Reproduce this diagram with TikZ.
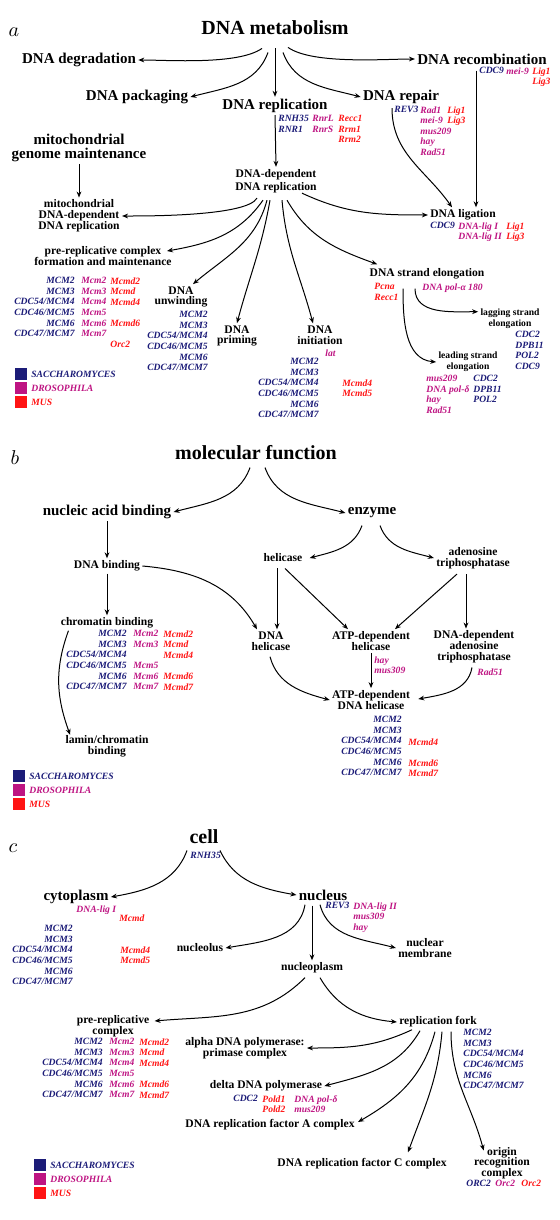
\documentclass[tikz,border=0pt]{standalone}
\usepackage{fontspec}
\setmainfont{Liberation Serif}
\usetikzlibrary{arrows.meta,calc}
\definecolor{sacblue}{RGB}{28,28,120}
\definecolor{dromag}{RGB}{190,20,130}
\definecolor{musred}{RGB}{255,20,20}
\lineskiplimit=-10pt
\newcommand{\mcmlist}{MCM2\\MCM3\\CDC54/MCM4\\CDC46/MCM5\\MCM6\\CDC47/MCM7}
\newcommand{\drolist}{Mcm2\\Mcm3\\Mcm4\\Mcm5\\Mcm6\\Mcm7}
%colour key: prefix, left, top
\newcommand{\specieskey}[3]{%
  \foreach \kcol/\kname [count=\k from 0] in {sacblue/SACCHAROMYCES,dromag/DROSOPHILA,musred/MUS}{
    \fill[\kcol] (#2,{-#3-14*\k}) rectangle ++(12,-12);
    \node[gene,text=\kcol,anchor=west] (#1key\k) at (#2+16,{-#3-14*\k-6}) {\kname};
  }}
\begin{document}
\begin{tikzpicture}[x=0.5pt,y=0.5pt,
  big/.style={font=\fontsize{10}{11}\selectfont\bfseries,inner sep=1pt},
  lone/.style={font=\fontsize{7.5}{6.6}\selectfont\bfseries,inner sep=1pt,align=center},
  ltwo/.style={font=\fontsize{5.8}{5.4}\selectfont\bfseries,inner sep=1pt,align=center},
  lthree/.style={font=\fontsize{4.8}{5.5}\selectfont\bfseries,inner sep=1pt,align=center},
  gene/.style={font=\fontsize{4.8}{5.3}\selectfont\bfseries\itshape,inner sep=0pt},
  sac/.style={gene,text=sacblue},
  dro/.style={gene,text=dromag},
  mus/.style={gene,text=musred},
  gl/.style={anchor=north west,align=left},
  gr/.style={anchor=north east,align=right},
  arr/.style={line width=0.5pt,-{Stealth[length=3pt,width=2.4pt]}},
  tag/.style={font=\fontsize{10}{12}\selectfont,inner sep=0pt}]
\useasboundingbox (0,0) rectangle (560,-1220);
%panel a
\node[tag] (pa) at (14,-32) {$a$};
\node[big] (met) at (275,-28) {DNA metabolism};
\node[lone] (deg) at (79,-60) {DNA degradation};
\node[lone] (pack) at (137,-97) {DNA packaging};
\node[lone] (rep) at (275,-106) {DNA replication};
\node[lone] (repair) at (401,-97) {DNA repair};
\node[lone] (recomb) at (482,-59) {DNA recombination};
\node[lone] (mito) at (79,-148) {mitochondrial\\genome maintenance};
\node[ltwo,font=\fontsize{5.8}{6.5}\selectfont\bfseries] (ddrep) at (276,-181) {DNA-dependent\\DNA replication};
\node[ltwo] (mdrep) at (79,-216) {mitochondrial\\DNA-dependent\\DNA replication};
\node[ltwo] (prerep) at (103,-256) {pre-replicative complex\\formation and maintenance};
\node[ltwo] (unwind) at (181,-297) {DNA\\unwinding};
\node[ltwo] (prim) at (237,-336) {DNA\\priming};
\node[ltwo] (init) at (320,-335) {DNA\\initiation};
\node[ltwo] (elong) at (427,-274) {DNA strand elongation};
\node[ltwo] (lig) at (463,-215) {DNA ligation};
\node[lthree] (lag) at (510,-319) {lagging strand\\elongation};
\node[lthree] (lead) at (468,-362) {leading strand\\elongation};
%gene lists a
\node[sac,gl] (rcg1) at (479,-67) {CDC9};
\node[dro,gl] (rcg2) at (506,-67) {mei-9};
\node[mus,gl] (rcg3) at (532,-67) {Lig1\\Lig3};
\node[sac,gl] (rpg1) at (394,-106) {REV3};
\node[dro,gl] (rpg2) at (420,-106) {Rad1\\mei-9\\mus209\\hay\\Rad51};
\node[mus,gl] (rpg3) at (447,-106) {Lig1\\Lig3};
\node[sac,gl] (rg1) at (278,-115) {RNH35\\RNR1};
\node[dro,gl] (rg2) at (312,-115) {RnrL\\RnrS};
\node[mus,gl] (rg3) at (338,-115) {Recc1\\Rrm1\\Rrm2};
\node[sac,gl] (lg1) at (430,-222) {CDC9};
\node[dro,gl] (lg2) at (458,-222) {DNA-lig I\\DNA-lig II};
\node[mus,gl] (lg3) at (506,-222) {Lig1\\Lig3};
\node[mus,gl] (eg1) at (374,-283) {Pcna\\Recc1};
\node[dro,gl] (eg2) at (422,-283) {DNA pol-α 180};
\node[sac,gl] (lgg) at (515,-331) {CDC2\\DPB11\\POL2\\CDC9};
\node[dro,gl] (ldg1) at (426,-375) {mus209\\DNA pol-δ\\hay\\Rad51};
\node[sac,gl] (ldg2) at (473,-375) {CDC2\\DPB11\\POL2};
\node[dro,gl] (ig1) at (325,-349) {lat};
\node[sac,gr] (ig2) at (319,-358) {\mcmlist};
\node[mus,gl] (ig3) at (342,-379) {Mcmd4\\Mcmd5};
\node[sac,gr] (ug) at (208,-311) {\mcmlist};
\node[sac,gr] (pg1) at (75,-277) {\mcmlist};
\node[dro,gl] (pg2) at (81,-277) {\drolist};
\node[mus,gl] (pg3) at (110,-277) {Mcmd2\\Mcmd\\Mcmd4\\\mbox{}\\Mcmd6\\\mbox{}\\Orc2};
\specieskey{a}{15}{368}
%arrows a
\draw[arr] ($(met.south)+(-13,-11)$) to[out=215,in=0,looseness=0.6] (deg.east);
\draw[arr] ($(met.south)+(-7,-15)$) to[out=250,in=15] (pack.east);
\draw[arr] ($(met.south)+(0,-11)$) -- (rep.north);
\draw[arr] ($(met.south)+(8,-15)$) to[out=-70,in=165] (repair.west);
\draw[arr] ($(met.south)+(13,-10)$) to[out=-35,in=180,looseness=0.6] (recomb.west);
\draw[arr] (rep.south) -- (ddrep.north);
\draw[arr] ($(repair.south)+(-9,-2)$) to[out=-90,in=125] ($(lig.north)+(-11,0)$);
\coordinate (rcs) at ($(recomb.south)+(-6,-4)$);
\draw[arr] (rcs) -- (rcs |- lig.north);
\draw[arr] (mito.south) -- (mdrep.north);
\draw[arr] ($(ddrep.south)+(-19,-3)$) to[out=240,in=0,looseness=0.4] (mdrep.east);
\draw[arr] ($(ddrep.south)+(-13,-5)$) to[out=235,in=10] ($(prerep.east)+(-7,5)$);
\draw[arr] ($(ddrep.south)+(-9,-5)$) to[out=255,in=40] ($(unwind.north)+(12,0)$);
\draw[arr] ($(ddrep.south)+(-6,-5)$) to[out=260,in=75] (prim.north);
\draw[arr] ($(ddrep.south)+(6,-5)$) to[out=-85,in=105] ($(init.north)+(-7,0)$);
\draw[arr] ($(ddrep.south)+(11,-5)$) to[out=-60,in=160] ($(elong.north west)+(10,2)$);
\draw[arr] ($(ddrep.south)+(26,2)$) to[out=-25,in=180] (lig.west);
\draw[arr] ($(elong.south)+(-12,-7)$) to[out=-90,in=180] ($(lag.north west)+(0,-5)$);
\draw[arr] ($(elong.south)+(-24,-7)$) to[out=-90,in=175] (lead.west);
%panel b
\node[tag] (pb) at (15,-458) {$b$};
\node[big] (mf) at (256,-453) {molecular function};
\node[lone] (nab) at (107,-512) {nucleic acid binding};
\node[lone] (enz) at (372,-513) {enzyme};
\node[ltwo] (dnab) at (107,-566) {DNA binding};
\node[ltwo] (hel) at (283,-558) {helicase};
\node[ltwo] (atpase) at (473,-558) {adenosine\\triphosphatase};
\node[ltwo] (chrom) at (107,-623) {chromatin binding};
\node[ltwo] (dhel) at (271,-641) {DNA\\helicase};
\node[ltwo] (atphel) at (371,-641) {ATP-dependent\\helicase};
\node[ltwo] (ddatp) at (474,-647) {DNA-dependent\\adenosine\\triphosphatase};
\node[ltwo] (atpdhel) at (371,-700) {ATP-dependent\\DNA helicase};
\node[ltwo] (lamin) at (107,-746) {lamin/chromatin\\binding};
%gene lists b
\node[sac,gr] (cg1) at (127,-630) {\mcmlist};
\node[dro,gl] (cg2) at (133,-630) {Mcm2\\Mcm3\\\mbox{}\\Mcm5\\Mcm6\\Mcm7};
\node[mus,gl] (cg3) at (163,-630) {Mcmd2\\Mcmd\\Mcmd4\\\mbox{}\\Mcmd6\\Mcmd7};
\node[dro,gl] (ahg) at (374,-656) {hay\\mus309};
\node[dro,gl] (dag) at (477,-668) {Rad51};
\node[sac,gr] (adg1) at (402,-716) {\mcmlist};
\node[mus,gl] (adg2) at (408,-738) {Mcmd4\\\mbox{}\\Mcmd6\\Mcmd7};
\specieskey{b}{13}{770}
%arrows b
\draw[arr] ($(mf.south)+(-6,-5)$) to[out=250,in=15] (nab.east);
\draw[arr] ($(mf.south)+(9,-5)$) to[out=-70,in=165] (enz.west);
\draw[arr] (nab.south) -- (dnab.north);
\draw[arr] (dnab.south) -- (chrom.north);
\draw[arr] (dnab.east) to[out=-5,in=120] ($(dhel.north)+(-14,0)$);
\draw[arr] ($(enz.south)+(-10,-5)$) to[out=-110,in=15] ($(hel.east)+(5,0)$);
\draw[arr] ($(enz.south)+(8,-5)$) to[out=-70,in=165] (atpase.west);
\coordinate (hs) at ($(hel.south)+(-6,-4)$);
\draw[arr] (hs) -- (hs |- dhel.north);
\draw[arr] ($(hel.south)+(2,-4)$) -- ($(atphel.north)+(-23,0)$);
\draw[arr] ($(atpase.south)+(-16,-3)$) -- ($(atphel.north)+(24,0)$);
\coordinate (as) at ($(atpase.south)+(-7,-3)$);
\draw[arr] (as) -- (as |- ddatp.north);
\draw[arr] ($(dhel.south)+(-1,-4)$) to[out=-75,in=165] (atpdhel.west);
\draw[arr] (atphel.south) -- (atpdhel.north);
\draw[arr] ($(ddatp.south)+(-2,-2)$) to[out=-100,in=10] ($(atpdhel.east)+(6,1)$);
\draw[arr] ($(chrom.south west)+(10,0)$) to[out=250,in=110] ($(lamin.north west)+(7,-2)$);
%panel c
\node[tag] (pc) at (13,-848) {$c$};
\node[big] (cell) at (204,-837) {cell};
\node[sac,gl] (clg) at (190,-852) {RNH35};
\node[lone] (cyto) at (76,-897) {cytoplasm};
\node[lone] (nuc) at (323,-895) {nucleus};
\node[ltwo] (nmem) at (425,-948) {nuclear\\membrane};
\node[ltwo] (nucl) at (200,-948) {nucleolus};
\node[ltwo] (nplasm) at (312,-968) {nucleoplasm};
\node[ltwo] (fork) at (438,-1022) {replication fork};
\node[ltwo] (prerc) at (113,-1026) {pre-replicative\\complex};
\node[ltwo] (alpha) at (245,-1048) {alpha DNA polymerase:\\primase complex};
\node[ltwo] (delta) at (266,-1086) {delta DNA polymerase};
\node[ltwo] (rfa) at (270,-1125) {DNA replication factor A complex};
\node[ltwo] (rfc) at (362,-1164) {DNA replication factor C complex};
\node[ltwo] (orc) at (502,-1163) {origin\\recognition\\complex};
%gene lists c
\node[dro,gl] (cyg1) at (76,-905) {DNA-lig I};
\node[mus,gl] (cyg2) at (119,-914) {Mcmd};
\node[sac,gr] (cyg3) at (73,-925) {\mcmlist};
\node[mus,gl] (cyg4) at (120,-946) {Mcmd4\\Mcmd5};
\node[sac,gl] (nug1) at (325,-902) {REV3};
\node[dro,gl] (nug2) at (353,-902) {DNA-lig II\\mus309\\hay};
\node[sac,gl] (fg) at (463,-1029) {\mcmlist};
\node[sac,gr] (pcg1) at (103,-1038) {\mcmlist};
\node[dro,gl] (pcg2) at (109,-1038) {\drolist};
\node[mus,gl] (pcg3) at (139,-1038) {Mcmd2\\Mcmd\\Mcmd4\\\mbox{}\\Mcmd6\\Mcmd7};
\node[sac,gl] (dg1) at (233,-1095) {CDC2};
\node[mus,gl] (dg2) at (262,-1095) {Pold1\\Pold2};
\node[dro,gl] (dg3) at (294,-1095) {DNA pol-δ\\mus209};
\node[sac,gl] (og1) at (466,-1180) {ORC2};
\node[dro,gl] (og2) at (495,-1180) {Orc2};
\node[mus,gl] (og3) at (521,-1180) {Orc2};
\specieskey{c}{34}{1159}
%arrows c
\draw[arr] ($(cell.south)+(-17,-4)$) to[out=-110,in=10] (cyto.east);
\draw[arr] ($(cell.south)+(16,-4)$) to[out=-65,in=170] (nuc.west);
\draw[arr] ($(nuc.south)+(-18,-2)$) to[out=-100,in=10] (nucl.east);
\coordinate (ns) at ($(nuc.south)+(-11,-3)$);
\draw[arr] (ns) -- (ns |- nplasm.north);
\draw[arr] ($(nuc.south)+(-3,-2)$) to[out=-75,in=165] (nmem.west);
\draw[arr] ($(nplasm.south)+(-7,-2)$) to[out=-135,in=5] ($(prerc.east)+(3,5)$);
\draw[arr] ($(nplasm.south)+(8,-2)$) to[out=-60,in=175] (fork.west);
\draw[arr] ($(fork.south)+(-26,0)$) to[out=-155,in=0] (alpha.east);
\draw[arr] ($(fork.south)+(-18,-1)$) to[out=-120,in=15] (delta.east);
\draw[arr] ($(fork.south)+(-3,-2)$) to[out=-105,in=30] ($(rfa.east)+(1,3)$);
\draw[arr] ($(fork.south)+(4,-2)$) to[out=-95,in=70] ($(rfc.north)+(46,4)$);
\draw[arr] ($(fork.south)+(13,-2)$) to[out=-90,in=105] ($(orc.north west)+(12,-6)$);
\end{tikzpicture}
\end{document}
